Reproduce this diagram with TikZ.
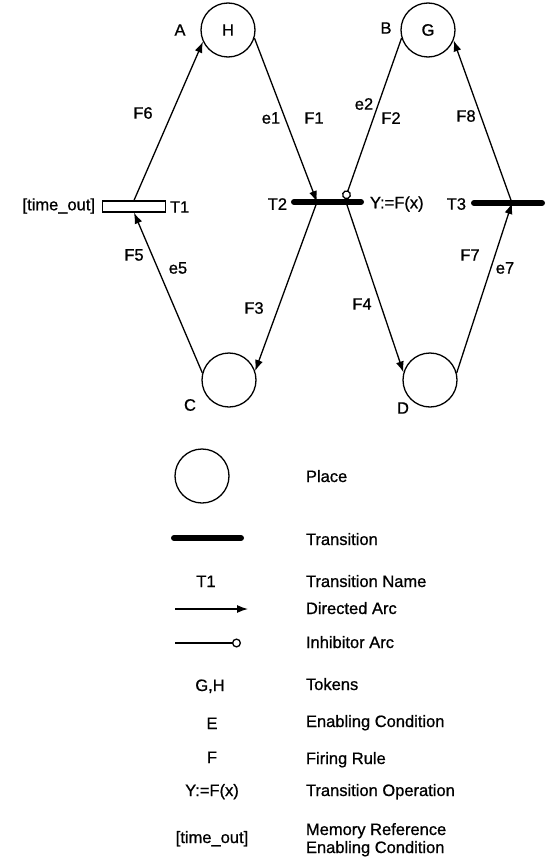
\documentclass[tikz,border=0pt]{standalone}
\usepackage{fontspec}
\setmainfont{Liberation Sans}[FakeBold=0.8]
\usetikzlibrary{arrows.meta}

\begin{document}
\begin{tikzpicture}[x=1pt, y=-1pt, line width=1.3pt,
  every node/.style={font=\fontsize{16.5}{19}\selectfont},
  place/.style={draw, circle, minimum size=54pt, inner sep=0pt},
  bar/.style={line width=6pt, line cap=round},
  arc/.style={->, >={Latex[length=11pt,width=8pt]}},
  inhib/.style={-{Circle[open,length=9pt,width=9pt]}},
  key/.style={anchor=base west}]
\useasboundingbox (0,0) rectangle (549,867);
% places
\node[place] (H) at (228,30) {H};
\node[place] (G) at (428,30) {G};
\node[place] (C) at (229,380) {};
\node[place] (D) at (430,380) {};
\node (lA) at (180,30) {A};
\node (lB) at (386,28) {B};
\node (lC) at (190,405) {C};
\node (lD) at (403,408) {D};
% transitions
\coordinate (T2l) at (294,202) ;
\coordinate (T2r) at (361,202) ;
\coordinate (T2a) at (317,202) ;
\coordinate (T2b) at (346,202) ;
\coordinate (T2c) at (345,199) ;
\coordinate (T3l) at (474,203) ;
\coordinate (T3r) at (542,203) ;
\coordinate (T3a) at (512,203) ;
% arcs
\draw[arc] (H.343) -- (T2a) ;
\draw[arc] (T2a) -- (C.19) ;
\draw[inhib] (G.197) -- (T2c) ;
\draw[arc] (T2b) -- (D.164) ;
\draw[arc] (D.15) -- (T3a) ;
\draw[arc] (T3a) -- (G.338) ;
\node[draw, fill=white, minimum width=63pt, minimum height=11pt, inner sep=0pt] (T1) at (134,206.5) {};
\draw[arc] (C.165) -- (T1.south) ;
\draw[arc] (T1.north) -- (H.205) ;
\draw[bar] (T2l) -- (T2r) ;
\draw[bar] (T3l) -- (T3r) ;
\node[anchor=east] (tmo) at (99,206) {[time\_out]};
\node[anchor=west] (nT1) at (166,207) {T1};
\node[anchor=east] (nT2) at (291,204) {T2};
\node[anchor=west] (opT2) at (366,204) {Y:=F(x)};
\node[anchor=east] (nT3) at (470,204) {T3};
% arc labels
\node (F6) at (143,113) {F6};
\node (e1) at (271,118) {e1};
\node (F1) at (314,118) {F1};
\node (e2) at (364,104) {e2};
\node (F2) at (391,118) {F2};
\node (F8) at (466,116) {F8};
\node (F5) at (134,255) {F5};
\node (e5) at (178,268) {e5};
\node (F3) at (254,308) {F3};
\node (F4) at (362,304) {F4};
\node (F7) at (470,255) {F7};
\node (e7) at (505,268) {e7};
% legend
\node[place] (kplace) at (202,476) {};
\coordinate (kbar1) at (174,538) ;
\coordinate (kbar2) at (241,538) ;
\draw[bar] (kbar1) -- (kbar2) ;
\node[anchor=base] (kname) at (206,587) {T1};
\coordinate (karc1) at (175,609) ;
\coordinate (karc2) at (248,609) ;
\draw[arc] (karc1) -- (karc2) ;
\coordinate (kinh1) at (175,643) ;
\coordinate (kinh2) at (241,643) ;
\draw[inhib] (kinh1) -- (kinh2) ;
\node[anchor=base] (ktok) at (210,691) {G,H};
\node[anchor=base] (kE) at (212,729) {E};
\node[anchor=base] (kF) at (212,763) {F};
\node[anchor=base] (kop) at (212,796) {Y:=F(x)};
\node[anchor=base] (kmem) at (212,843) {[time\_out]};
\node[key] (tplace) at (302,482) {Place};
\node[key] (ttrans) at (302,545) {Transition};
\node[key] (tname) at (302,587) {Transition Name};
\node[key] (tarc) at (302,614) {Directed Arc};
\node[key] (tinh) at (302,648) {Inhibitor Arc};
\node[key] (ttok) at (302,690) {Tokens};
\node[key] (tE) at (302,727) {Enabling Condition};
\node[key] (tF) at (302,764) {Firing Rule};
\node[key] (top) at (302,796) {Transition Operation};
\node[key] (tmem) at (302,835) {Memory Reference};
\node[key] (tmem2) at (302,853) {Enabling Condition};
\end{tikzpicture}
\end{document}
